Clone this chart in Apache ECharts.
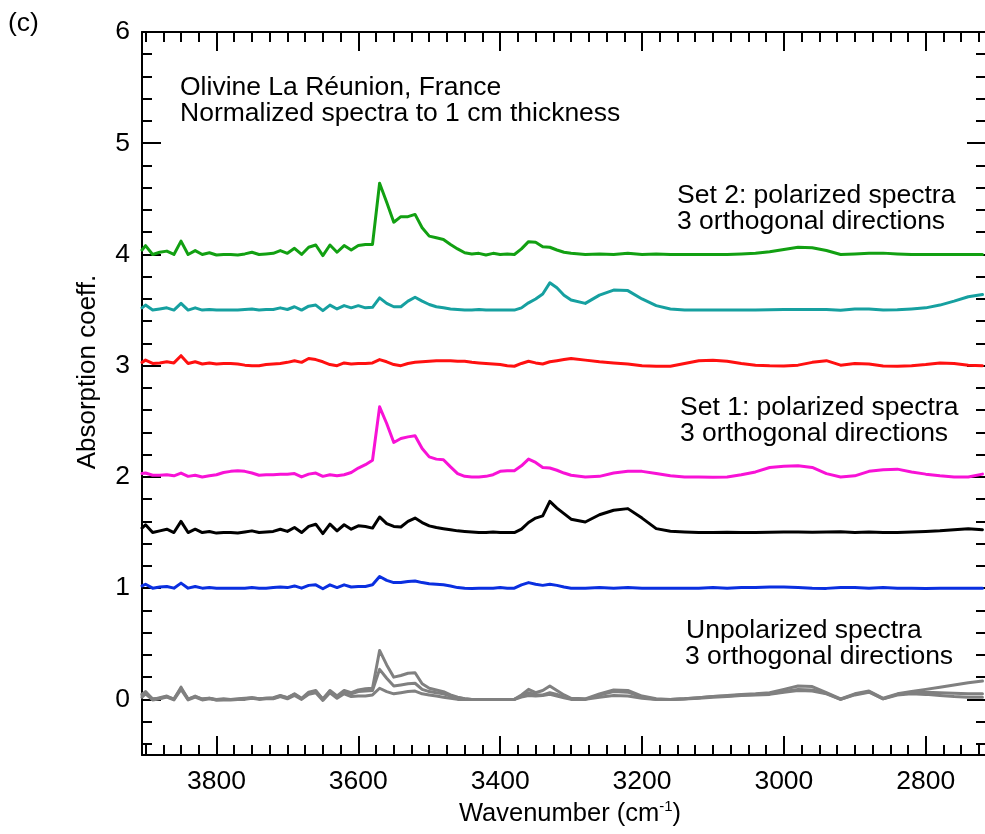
<!DOCTYPE html>
<html>
<head>
<meta charset="utf-8">
<script src="https://cdn.jsdelivr.net/npm/echarts@6/dist/echarts.min.js"></script>
<style>
html,body{margin:0;padding:0;background:#fff;}
#chart{width:985px;height:834px;}
</style>
</head>
<body>
<div id="chart"></div>
<script>
// Wavenumber grid (cm-1)
const wavenumbers = [3905,3900,3890,3880,3870,3860,3850,3840,3830,3820,3810,3800,3790,3780,3770,3760,3750,3740,3730,3720,3710,3700,3690,3680,3670,3660,3650,3640,3630,3620,3610,3600,3590,
  3580,3570,3560,3550,3540,3530,3520,3510,3500,3490,3480,3470,3460,3450,3440,3430,3420,3410,3400,3390,3380,3370,3360,3350,3340,3330,3320,3310,3300,
  3280,3260,3240,3220,3200,3180,3160,3140,3120,3100,3080,3060,3040,3020,3000,2980,2960,2940,2920,2900,2880,2860,2840,2820,2800,2780,2760,2740,2720];

// Set 2 polarized (offset spectra)
const set2Green = [4.04,4.08,4.0,4.02,4.03,4.0,4.12,4.0,4.035,4.0,4.015,3.995,4.0,4.0,3.995,4.005,4.02,4.0,4.005,4.01,4.035,4.01,4.055,4.0,4.065,4.085,3.99,4.085,4.02,4.08,4.04,4.08,4.09,
  4.09,4.64,4.47,4.29,4.34,4.34,4.36,4.24,4.165,4.15,4.135,4.09,4.05,4.015,4.005,4.01,3.995,4.01,4.0,4.005,4.0,4.05,4.115,4.11,4.07,4.065,4.04,4.02,4.01,
  4.0,4.005,4.0,4.01,4.0,4.005,4.0,4.0,4.0,4.0,4.0,4.005,4.01,4.025,4.045,4.065,4.06,4.035,4.0,4.005,4.01,4.012,4.005,4.0,4.0,4.0,4.0,4.0,4.0];
const set2Teal = [3.52,3.545,3.5,3.51,3.52,3.5,3.56,3.5,3.52,3.5,3.505,3.5,3.5,3.5,3.5,3.505,3.51,3.5,3.505,3.505,3.52,3.505,3.53,3.5,3.535,3.545,3.495,3.545,3.51,3.54,3.52,3.54,3.52,
  3.525,3.61,3.56,3.53,3.53,3.58,3.615,3.58,3.55,3.53,3.52,3.51,3.505,3.5,3.5,3.505,3.5,3.5,3.5,3.5,3.5,3.52,3.565,3.6,3.645,3.745,3.70,3.634,3.59,
  3.56,3.634,3.68,3.675,3.6,3.54,3.51,3.5,3.5,3.5,3.5,3.5,3.5,3.502,3.505,3.505,3.505,3.505,3.498,3.51,3.51,3.5,3.502,3.51,3.52,3.545,3.58,3.62,3.64];
const set2Red = [3.03,3.05,3.02,3.025,3.035,3.025,3.09,3.02,3.035,3.015,3.025,3.015,3.02,3.02,3.015,3.005,3.0,3.0,3.01,3.015,3.02,3.03,3.045,3.03,3.065,3.055,3.035,3.01,3.0,3.025,3.015,3.02,3.02,
  3.025,3.055,3.035,3.01,3.0,3.02,3.03,3.035,3.04,3.045,3.045,3.045,3.04,3.04,3.03,3.025,3.02,3.015,3.01,3.0,2.995,3.02,3.04,3.025,3.015,3.035,3.045,3.055,3.065,
  3.05,3.035,3.025,3.015,3.0,2.995,2.995,3.02,3.045,3.05,3.04,3.02,3.005,3.0,2.998,3.005,3.03,3.045,3.005,3.02,3.015,2.998,2.995,3.0,3.01,3.025,3.02,3.005,3.0];

// Set 1 polarized
const set1Magenta = [2.03,2.035,2.015,2.015,2.02,2.01,2.035,2.005,2.015,2.0,2.01,2.02,2.04,2.05,2.055,2.05,2.035,2.015,2.02,2.02,2.025,2.025,2.03,2.0,2.025,2.035,2.005,2.02,2.01,2.02,2.04,2.08,2.11,
  2.15,2.63,2.48,2.31,2.345,2.36,2.37,2.255,2.18,2.16,2.155,2.09,2.03,2.005,2.0,2.0,2.005,2.02,2.05,2.055,2.055,2.1,2.16,2.13,2.085,2.08,2.06,2.035,2.015,
  2.0,2.005,2.035,2.05,2.05,2.03,2.01,2.0,2.0,1.998,2.0,2.02,2.045,2.085,2.095,2.1,2.085,2.03,2.0,2.01,2.05,2.065,2.07,2.045,2.025,2.01,2.0,2.0,2.025];
const set1Black = [1.54,1.57,1.5,1.515,1.53,1.5,1.6,1.5,1.53,1.5,1.51,1.495,1.5,1.5,1.495,1.505,1.515,1.5,1.505,1.51,1.53,1.51,1.545,1.5,1.555,1.575,1.49,1.575,1.515,1.57,1.53,1.56,1.555,
  1.54,1.64,1.58,1.555,1.55,1.6,1.63,1.59,1.56,1.545,1.535,1.525,1.515,1.51,1.505,1.5,1.5,1.505,1.5,1.5,1.5,1.53,1.59,1.63,1.65,1.78,1.72,1.67,1.62,
  1.595,1.66,1.7,1.715,1.63,1.535,1.512,1.505,1.5,1.5,1.502,1.5,1.5,1.502,1.505,1.505,1.502,1.505,1.508,1.5,1.505,1.5,1.5,1.505,1.51,1.515,1.525,1.535,1.525];
const set1Blue = [1.02,1.035,1.0,1.01,1.015,1.0,1.045,1.0,1.015,1.0,1.005,1.0,1.0,1.0,1.0,1.0,1.005,1.0,1.0,1.005,1.01,1.005,1.02,1.0,1.025,1.03,0.995,1.03,1.005,1.03,1.01,1.015,1.015,
  1.03,1.105,1.07,1.05,1.05,1.06,1.065,1.05,1.04,1.035,1.03,1.02,1.005,1.0,0.998,1.0,1.0,1.0,1.005,1.0,1.0,1.03,1.05,1.035,1.025,1.035,1.025,1.01,1.0,
  1.0,1.005,1.0,1.005,1.0,1.0,1.0,1.0,1.0,1.005,1.0,1.005,1.005,1.01,1.01,1.005,1.0,0.998,1.005,1.005,1.0,1.005,1.0,1.0,0.998,1.0,1.0,1.0,1.0];

// Unpolarized spectra
const unpol1 = [0.04,0.07,0.0,0.015,0.03,0.0,0.11,0.0,0.03,0.0,0.01,-0.005,0.0,0.0,0.0,0.005,0.015,0.005,0.01,0.015,0.035,0.015,0.05,0.01,0.065,0.08,0.0,0.08,0.03,0.08,0.06,0.085,0.095,
  0.1,0.44,0.31,0.2,0.215,0.235,0.24,0.14,0.1,0.085,0.07,0.04,0.02,0.005,0.0,0.0,0.0,0.0,0.0,0.0,0.0,0.04,0.09,0.06,0.08,0.12,0.08,0.04,0.01,
  0.005,0.05,0.085,0.08,0.03,0.005,0.0,0.005,0.015,0.025,0.035,0.045,0.05,0.06,0.09,0.12,0.115,0.06,0.005,0.05,0.075,0.01,0.05,0.07,0.09,0.11,0.13,0.15,0.165];
const unpol2 = [0.05,0.06,0.005,0.01,0.025,0.005,0.1,0.005,0.025,0.005,0.01,0.0,0.005,0.0,0.005,0.01,0.015,0.005,0.01,0.01,0.03,0.015,0.045,0.005,0.055,0.07,0.005,0.075,0.02,0.07,0.05,0.07,0.075,
  0.08,0.27,0.19,0.12,0.13,0.14,0.145,0.09,0.07,0.06,0.05,0.03,0.015,0.005,0.0,0.0,0.0,0.0,0.0,0.0,0.0,0.03,0.06,0.04,0.04,0.06,0.045,0.02,0.005,
  0.0,0.04,0.07,0.065,0.02,0.0,0.0,0.005,0.015,0.025,0.03,0.04,0.045,0.05,0.07,0.09,0.085,0.055,0.0,0.045,0.07,0.005,0.045,0.06,0.065,0.06,0.055,0.05,0.05];
const unpol3 = [0.02,0.05,-0.005,0.005,0.02,-0.005,0.09,-0.005,0.02,-0.005,0.005,-0.005,-0.005,-0.005,0.0,0.0,0.01,0.0,0.005,0.005,0.025,0.005,0.035,0.0,0.045,0.06,-0.01,0.06,0.01,0.05,0.025,0.03,0.03,
  0.04,0.1,0.07,0.05,0.06,0.07,0.075,0.05,0.04,0.03,0.02,0.01,0.0,0.0,0.0,0.0,0.0,0.0,0.0,0.0,0.0,0.02,0.035,0.03,0.035,0.045,0.03,0.015,0.0,
  0.0,0.02,0.035,0.03,0.01,0.0,-0.002,0.003,0.01,0.02,0.025,0.035,0.04,0.045,0.065,0.08,0.075,0.05,0.0,0.04,0.065,0.005,0.04,0.05,0.045,0.035,0.025,0.02,0.02];

// Tick values
const xMajorTicks = [3800,3600,3400,3200,3000,2800];
const yMajorTicks = [0,1,2,3,4,5,6];

const FONT = '"Liberation Sans", Arial, Helvetica, sans-serif';
const xMinorTicks = [];
for (let v = 2725; v <= 3900; v += 25) xMinorTicks.push(v);
const yMinorTicks = [];
for (let i = -2; i <= 30; i++) yMinorTicks.push(Math.round(i * 2) / 10);

const seriesDefs = [
  {name: 'unpol1', data: unpol1, color: '#808080'},
  {name: 'unpol2', data: unpol2, color: '#808080'},
  {name: 'unpol3', data: unpol3, color: '#808080'},
  {name: 'set1Blue', data: set1Blue, color: '#0a2fe0'},
  {name: 'set1Black', data: set1Black, color: '#000000'},
  {name: 'set1Magenta', data: set1Magenta, color: '#f812d6'},
  {name: 'set2Red', data: set2Red, color: '#ff1010'},
  {name: 'set2Teal', data: set2Teal, color: '#16a0a0'},
  {name: 'set2Green', data: set2Green, color: '#12a012'}
];

const chart = echarts.init(document.getElementById('chart'), null, {renderer: 'canvas'});

function xAxisDef(pos, ticks, len, showLine, showLabel) {
  return {
    type: 'value', position: pos, min: 2715, max: 3905, inverse: true,
    axisLine: {show: showLine, onZero: false, lineStyle: {color: '#000', width: 2}},
    axisTick: {show: true, inside: true, length: len, customValues: ticks, lineStyle: {color: '#000', width: 2}},
    axisLabel: {show: showLabel, customValues: ticks, margin: 13, color: '#000', fontSize: 26.5, fontFamily: FONT,
                formatter: v => String(v)},
    splitLine: {show: false}
  };
}
function yAxisDef(pos, ticks, len, showLine, showLabel) {
  return {
    type: 'value', position: pos, min: -0.5, max: 6,
    axisLine: {show: showLine, onZero: false, lineStyle: {color: '#000', width: 2}},
    axisTick: {show: true, inside: true, length: len, customValues: ticks, lineStyle: {color: '#000', width: 2}},
    axisLabel: {show: showLabel, customValues: ticks, margin: 12, color: '#000', fontSize: 26.5, fontFamily: FONT,
                formatter: v => String(v)},
    splitLine: {show: false}
  };
}

const textStyleBase = {fill: '#000', fontSize: 26.5, fontFamily: FONT, verticalAlign: 'middle'};
function txt(x, y, s) {
  return {type: 'text', x: x, y: y, silent: true, style: Object.assign({text: s, align: 'left'}, textStyleBase)};
}

const option = {
  animation: false,
  backgroundColor: '#fff',
  grid: {left: 142, top: 32, width: 844, height: 723, containLabel: false, outerBoundsMode: 'none'},
  xAxis: [
    xAxisDef('bottom', xMajorTicks, 19, true, true),
    xAxisDef('bottom', xMinorTicks, 10, false, false),
    xAxisDef('top', xMajorTicks, 19, true, false),
    xAxisDef('top', xMinorTicks, 10, false, false)
  ],
  yAxis: [
    yAxisDef('left', yMajorTicks, 19, true, true),
    yAxisDef('left', yMinorTicks, 10, false, false),
    yAxisDef('right', yMajorTicks, 19, true, false),
    yAxisDef('right', yMinorTicks, 10, false, false)
  ],
  series: seriesDefs.map(s => ({
    type: 'line', name: s.name, xAxisIndex: 0, yAxisIndex: 0,
    data: wavenumbers.map((w, i) => [w, s.data[i]]),
    showSymbol: false, symbol: 'none', smooth: false,
    lineStyle: {color: s.color, width: 3, join: 'round', cap: 'round'}, itemStyle: {color: s.color},
    clip: true, silent: true
  })),
  graphic: [
    txt(8, 24, '(c)'),
    txt(180, 88, 'Olivine La Réunion, France'),
    txt(180, 114, 'Normalized spectra to 1 cm thickness'),
    txt(677, 196, 'Set 2: polarized spectra'),
    txt(677, 222, '3 orthogonal directions'),
    txt(680, 408, 'Set 1: polarized spectra'),
    txt(680, 434, '3 orthogonal directions'),
    txt(686, 631, 'Unpolarized spectra'),
    txt(685, 657, '3 orthogonal directions'),
    {type: 'text', x: 570, y: 814, silent: true,
     style: {text: 'Wavenumber (cm{sup|-1})', align: 'center', verticalAlign: 'middle', fill: '#000', fontSize: 25.5, fontFamily: FONT,
             rich: {sup: {fontSize: 15, fontFamily: FONT, fill: '#000', verticalAlign: 'top', padding: [0, 0, 14, 0]}}}},
    {type: 'text', x: 88, y: 372, rotation: Math.PI / 2, silent: true,
     style: {text: 'Absorption coeff.', align: 'center', verticalAlign: 'middle', fill: '#000', fontSize: 26, fontFamily: FONT}}
  ]
};
chart.setOption(option);
</script>
</body>
</html>
